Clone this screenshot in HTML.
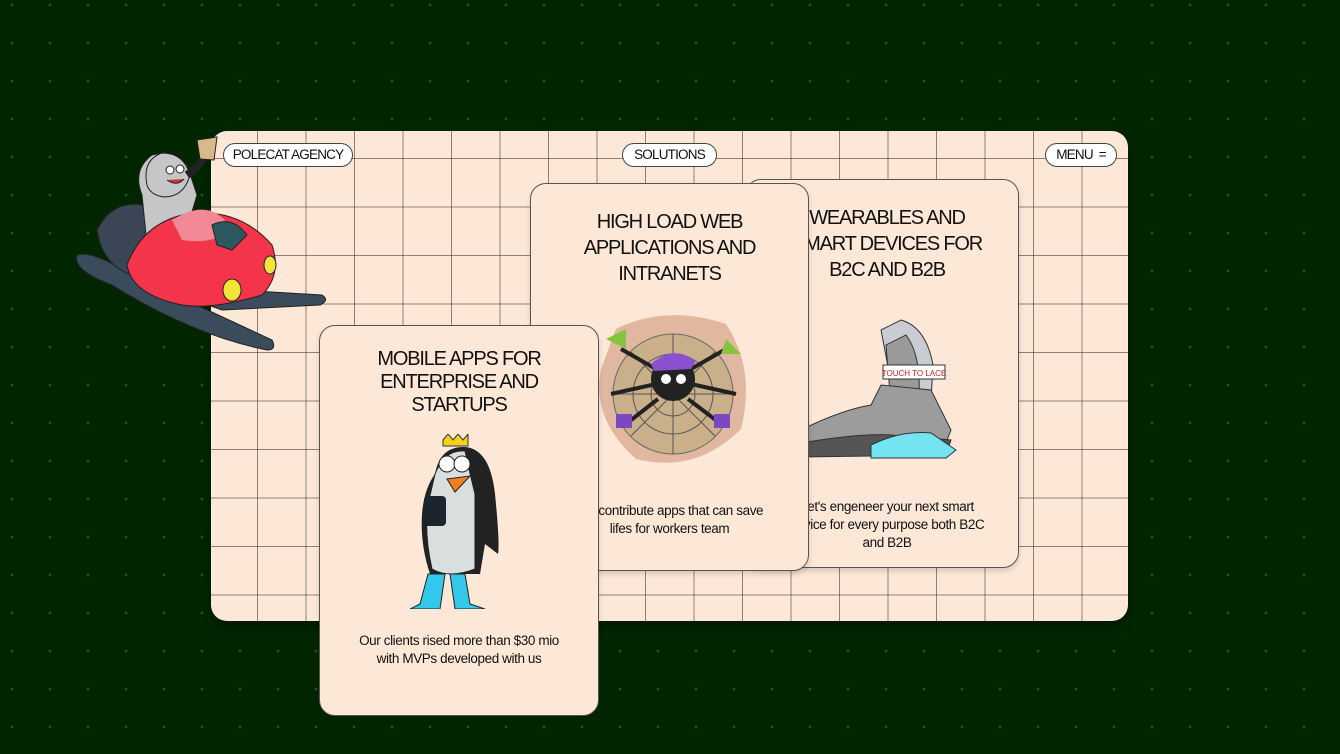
<!DOCTYPE html>
<html><head><meta charset="utf-8"><style>
*{margin:0;padding:0;box-sizing:border-box}
body{width:1340px;height:754px;overflow:hidden;background:#012600;position:relative;font-family:"Liberation Sans",sans-serif;
background-image:radial-gradient(circle,#2f4a2c 1.2px,transparent 1.6px);background-size:38px 38px;background-position:-7px -14px}
.panel{position:absolute;left:211px;top:131px;width:917px;height:490px;border-radius:16px;background-color:#fde8d8;
background-image:linear-gradient(to right,rgba(60,40,30,.55) 1px,transparent 1px),linear-gradient(to bottom,rgba(60,40,30,.55) 1px,transparent 1px);
background-size:48.5px 48.5px;background-position:46px 27px;box-shadow:0 6px 10px rgba(0,0,0,.35)}
.pill{position:absolute;height:24px;border:1px solid #444;border-radius:12px;background:#fff;font-size:13.5px;line-height:22px;padding:0;text-align:center;white-space:nowrap;color:#111;letter-spacing:-.8px}
.card{position:absolute;background:#fde8d8;border:1px solid #555;border-radius:16px;overflow:hidden;box-shadow:0 3px 6px rgba(0,0,0,.15)}
.card h2{position:absolute;left:0;right:0;text-align:center;font-weight:normal;font-size:20px;line-height:26px;color:#111;letter-spacing:-1.2px}
.card p{position:absolute;left:0;right:0;text-align:center;font-size:13.5px;line-height:18px;color:#111;letter-spacing:-.4px}
</style></head><body>
<div class="panel"></div>
<div class="pill" style="left:223px;top:143px;width:130px">POLECAT AGENCY</div>
<div class="pill" style="left:622px;top:143px;width:95px">SOLUTIONS</div>
<div class="pill" style="left:1045px;top:143px;width:72px">MENU &nbsp;=</div>

<!-- card 3 -->
<div class="card" style="left:745px;top:179px;width:274px;height:389px">
<h2 style="top:25px;left:0px;right:-10px">WEARABLES AND<br>SMART DEVICES FOR<br>B2C AND B2B</h2>
<svg style="position:absolute;left:55px;top:135px" width="160" height="150" viewBox="0 0 160 150">
<path d="M80 15 L100 5 Q125 12 132 50 L128 120 L100 120 Z" fill="#c9ccd2" stroke="#333"/>
<path d="M85 30 L105 20 Q120 40 118 80 L90 90 Z" fill="#9a9a9a" stroke="#333"/>
<path d="M0 115 Q40 95 70 90 L80 70 L130 75 L150 115 L140 140 L0 140 Z" fill="#9c9c9c" stroke="#333"/>
<path d="M0 128 Q60 118 90 120 L150 125 L145 140 L0 142 Z" fill="#555" stroke="#333"/>
<path d="M70 130 Q100 115 130 118 L155 135 L145 143 L70 143 Z" fill="#74e4f2" stroke="#333"/>
<rect x="82" y="50" width="62" height="14" fill="#fff" stroke="#333"/>
<text x="113" y="61" font-size="8" fill="#c22" text-anchor="middle" font-family="Liberation Sans">TOUCH TO LACE</text>
</svg>
<p style="top:318px;left:10px">Let's engeneer your next smart<br>device for every purpose both B2C<br>and B2B</p>
</div>

<!-- card 2 -->
<div class="card" style="left:530px;top:183px;width:279px;height:388px">
<h2 style="top:25px">HIGH LOAD WEB<br>APPLICATIONS AND<br>INTRANETS</h2>
<svg style="position:absolute;left:65px;top:125px" width="155" height="160" viewBox="0 0 155 160">
<path d="M20 20 Q70 -5 130 15 Q160 60 145 120 Q100 165 40 150 Q-5 110 5 60 Z" fill="#e2b7a0"/>
<circle cx="77" cy="85" r="60" fill="#c9b08a" stroke="#666"/>
<g stroke="#555" fill="none"><circle cx="77" cy="85" r="40"/><circle cx="77" cy="85" r="22"/><path d="M17 85H137M77 25V145M35 43L119 127M119 43L35 127"/></g>
<g stroke="#222" stroke-width="4"><path d="M60 60L25 40M60 75L15 85M62 90L30 115M95 60L130 40M95 75L140 85M92 90L125 115"/></g>
<circle cx="77" cy="70" r="22" fill="#222"/>
<path d="M55 55Q77 35 100 52L95 60L58 62Z" fill="#8a50d0"/>
<circle cx="70" cy="70" r="5" fill="#fff"/><circle cx="85" cy="70" r="5" fill="#fff"/>
<path d="M10 30L30 20L30 40Z" fill="#86c440"/><path d="M130 30L145 45L125 45Z" fill="#86c440"/>
<rect x="20" y="105" width="16" height="14" fill="#7b48c0"/><rect x="118" y="105" width="16" height="14" fill="#7b48c0"/>
</svg>
<p style="top:318px">We contribute apps that can save<br>lifes for workers team</p>
</div>

<!-- card 1 -->
<div class="card" style="left:319px;top:325px;width:280px;height:391px">
<h2 style="top:22px;line-height:23px">MOBILE APPS FOR<br>ENTERPRISE AND<br>STARTUPS</h2>
<svg style="position:absolute;left:90px;top:108px" width="110" height="175" viewBox="0 0 110 175">
<path d="M33 6L38 0L43 6L48 0L53 6L58 0L58 12L33 12Z" fill="#f4d21c" stroke="#333"/>
<path d="M25 40Q30 12 55 13Q80 15 85 60Q90 110 88 120L75 110L70 140L20 140Q10 110 12 80Q14 55 25 40Z" fill="#222"/>
<path d="M25 40Q35 15 55 17Q60 40 65 60L65 135Q40 145 22 135Q14 100 18 70Z" fill="#d9dedf" stroke="#222"/>
<circle cx="37" cy="30" r="8" fill="#fff" stroke="#222"/><circle cx="52" cy="30" r="8" fill="#fff" stroke="#222"/>
<path d="M37 45L60 42L45 58Z" fill="#f3801f" stroke="#222"/>
<rect x="14" y="62" width="22" height="30" rx="4" fill="#1a2530"/>
<path d="M18 140L10 170L0 175L30 175L35 140Z" fill="#33c8ea" stroke="#222"/>
<path d="M55 140L60 170L75 175L45 175L40 140Z" fill="#33c8ea" stroke="#222"/>
</svg>
<p style="top:306px">Our clients rised more than $30 mio<br>with MVPs developed with us</p>
</div>

<!-- snowmobile creature -->
<svg style="position:absolute;left:72px;top:135px" width="260" height="220" viewBox="0 0 260 220">
<path d="M5 120Q20 115 60 140L200 205Q205 215 195 215Q120 200 40 150Q0 135 5 120Z" fill="#3a4b5c" stroke="#222"/>
<path d="M80 150L250 160Q258 165 248 170L150 175Z" fill="#3a4b5c" stroke="#222"/>
<path d="M25 95Q40 65 70 70L90 110L60 140Q30 130 25 95Z" fill="#3a4656" stroke="#222"/>
<path d="M70 60Q60 35 80 20Q100 15 115 30L125 60L110 110L75 110Z" fill="#c4c6c8" stroke="#222"/>
<path d="M75 50Q70 25 90 18Q112 18 118 40Q112 62 92 62Q78 60 75 50Z" fill="#c4c6c8" stroke="#222"/>
<circle cx="98" cy="35" r="4" fill="#fff" stroke="#222"/><circle cx="108" cy="34" r="4" fill="#fff" stroke="#222"/>
<path d="M95 45Q105 52 112 44" fill="#c33" stroke="#222"/>
<path d="M115 40Q130 30 135 15" stroke="#222" stroke-width="8" fill="none"/>
<path d="M125 5L145 2L142 25L128 24Z" fill="#d9b98a" stroke="#222"/>
<path d="M55 130Q70 90 110 80Q165 70 200 110Q210 140 190 160Q140 175 110 170Q60 160 55 130Z" fill="#f4344a" stroke="#222"/>
<path d="M100 85Q140 60 160 95Q140 110 110 105Z" fill="#f28896"/>
<path d="M140 90Q160 80 175 100L160 115L145 110Z" fill="#2d5860" stroke="#222"/>
<ellipse cx="160" cy="155" rx="9" ry="11" fill="#f3e43a" stroke="#222"/>
<ellipse cx="198" cy="130" rx="6" ry="9" fill="#f3e43a" stroke="#222"/>
</svg>
</body></html>
